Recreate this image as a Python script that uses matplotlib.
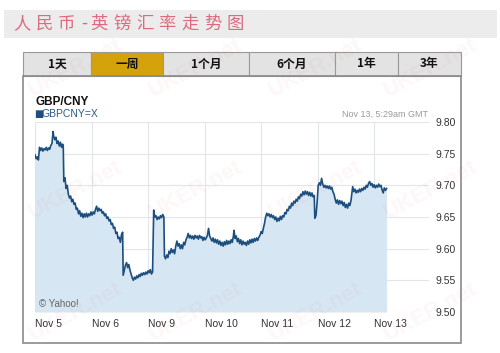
import matplotlib
matplotlib.use("Agg")
import matplotlib.pyplot as plt
from matplotlib.patches import Rectangle

plt.rcParams['font.family'] = ['Liberation Sans', 'Noto Sans CJK SC', 'DejaVu Sans']

title = "人民币-英镑汇率走势图"
tabs = ["1天", "一周", "1个月", "6个月", "1年", "3年"]
tab_edges = [23, 91, 163, 249, 335, 398, 461]
selected_tab = 1

day_labels = ["Nov 5", "Nov 6", "Nov 9", "Nov 10", "Nov 11", "Nov 12", "Nov 13"]
rate_ticks = [9.50, 9.55, 9.60, 9.65, 9.70, 9.75, 9.80]

# time in trading-day slots (0 = Nov 5 00:00), GBP/CNY rate
times = [
    0.00, 0.02, 0.04, 0.06, 0.08, 0.10, 0.12, 0.14, 0.16, 0.18, 0.20, 0.22, 0.24, 0.26, 0.28,
    0.30, 0.32, 0.33, 0.35, 0.37, 0.39, 0.41, 0.43, 0.45, 0.47, 0.49, 0.50,
    0.51, 0.53, 0.55, 0.57, 0.59, 0.61, 0.63, 0.65, 0.67, 0.69, 0.71, 0.73, 0.75, 0.77, 0.79,
    0.81, 0.83, 0.85, 0.87, 0.89, 0.91, 0.93, 0.95, 0.97, 0.99, 1.01, 1.03, 1.05, 1.07, 1.09,
    1.11, 1.13, 1.15, 1.17, 1.19, 1.21, 1.23, 1.25, 1.27, 1.29, 1.31, 1.33, 1.35, 1.37, 1.39,
    1.41, 1.43, 1.45, 1.47, 1.49, 1.51, 1.53, 1.55,
    1.56, 1.58, 1.60, 1.62, 1.64, 1.66, 1.68, 1.70, 1.72, 1.74, 1.76, 1.78, 1.80, 1.82, 1.84,
    1.86, 1.88, 1.90, 1.92, 1.94, 1.96, 1.98, 2.00, 2.02, 2.04, 2.06, 2.08,
    2.10, 2.12, 2.14, 2.16, 2.18, 2.20, 2.22, 2.24, 2.26, 2.28,
    2.29, 2.31, 2.33, 2.35, 2.37, 2.39, 2.41, 2.43, 2.45, 2.47, 2.49, 2.51, 2.53, 2.55, 2.57,
    2.59, 2.61, 2.63, 2.65, 2.67, 2.69, 2.71, 2.73, 2.75, 2.77, 2.79, 2.81, 2.83, 2.85, 2.87,
    2.89, 2.91, 2.93, 2.95, 2.97, 2.99, 3.01, 3.03, 3.05, 3.07, 3.09, 3.11, 3.13, 3.15, 3.17,
    3.19, 3.21, 3.23, 3.25, 3.27, 3.29, 3.31, 3.33, 3.35, 3.37, 3.39, 3.41, 3.43, 3.45, 3.47,
    3.49, 3.51, 3.52, 3.54, 3.56, 3.58, 3.60, 3.62, 3.64, 3.66, 3.68, 3.70, 3.72, 3.74, 3.76,
    3.78, 3.80, 3.82, 3.84, 3.86, 3.88, 3.90, 3.92, 3.94, 3.96, 3.98, 4.00, 4.02, 4.04, 4.06,
    4.08, 4.10, 4.12, 4.14, 4.16, 4.18, 4.20, 4.22, 4.24, 4.26, 4.28, 4.30, 4.32, 4.34, 4.36,
    4.38, 4.40, 4.42, 4.44, 4.46, 4.48, 4.50, 4.52, 4.54, 4.56, 4.58, 4.60, 4.62, 4.64, 4.66,
    4.68, 4.70, 4.72, 4.74, 4.76, 4.78, 4.80, 4.82, 4.84, 4.86, 4.88, 4.90, 4.92, 4.94,
    4.95, 4.97, 4.99, 5.01, 5.03, 5.05, 5.07, 5.09, 5.11, 5.13, 5.15, 5.17, 5.19, 5.21, 5.23,
    5.25, 5.27, 5.29, 5.31, 5.33, 5.35, 5.37, 5.39, 5.41, 5.43, 5.45, 5.47, 5.49, 5.51, 5.53,
    5.55, 5.57, 5.59, 5.61, 5.62, 5.64, 5.66, 5.68, 5.70, 5.72, 5.74, 5.76, 5.78, 5.80, 5.82,
    5.84, 5.86, 5.88, 5.90, 5.92, 5.94, 5.96, 5.98, 6.00, 6.02, 6.04, 6.06, 6.08, 6.10, 6.12,
    6.14, 6.16, 6.18, 6.20, 6.22,
]
rates = [
    9.748, 9.742, 9.745, 9.740, 9.760, 9.755, 9.759, 9.754, 9.758, 9.756, 9.760, 9.755, 9.759, 9.757, 9.763,
    9.766, 9.785, 9.778, 9.772, 9.776, 9.766, 9.770, 9.762, 9.768, 9.760, 9.765, 9.761,
    9.706, 9.712, 9.695, 9.700, 9.686, 9.680, 9.683, 9.674, 9.678, 9.670, 9.672, 9.662, 9.664, 9.655, 9.660,
    9.651, 9.656, 9.649, 9.655, 9.650, 9.656, 9.650, 9.655, 9.652, 9.658, 9.653, 9.658, 9.655, 9.662, 9.667,
    9.659, 9.664, 9.660, 9.662, 9.656, 9.658, 9.652, 9.655, 9.648, 9.650, 9.644, 9.646, 9.638, 9.640, 9.632,
    9.634, 9.624, 9.626, 9.616, 9.618, 9.610, 9.622, 9.626,
    9.558, 9.566, 9.574, 9.578, 9.570, 9.575, 9.566, 9.560, 9.554, 9.550, 9.555, 9.552, 9.557, 9.554, 9.559,
    9.556, 9.561, 9.558, 9.562, 9.559, 9.563, 9.560, 9.565, 9.562, 9.567, 9.560, 9.563,
    9.661, 9.650, 9.652, 9.646, 9.650, 9.647, 9.652, 9.649, 9.654, 9.650,
    9.588, 9.584, 9.590, 9.586, 9.596, 9.592, 9.600, 9.594, 9.598, 9.592, 9.604, 9.612, 9.604, 9.608, 9.600,
    9.606, 9.600, 9.610, 9.606, 9.614, 9.618, 9.624, 9.617, 9.621, 9.616, 9.620, 9.615, 9.621, 9.617, 9.620,
    9.615, 9.621, 9.617, 9.619, 9.613, 9.618, 9.614, 9.617, 9.621, 9.632, 9.620, 9.616, 9.612, 9.617, 9.610,
    9.615, 9.609, 9.614, 9.607, 9.612, 9.605, 9.610, 9.604, 9.611, 9.606, 9.613, 9.607, 9.612, 9.608, 9.614,
    9.610, 9.620, 9.629, 9.616, 9.620, 9.611, 9.616, 9.608, 9.614, 9.606, 9.612, 9.607, 9.610, 9.605, 9.612,
    9.607, 9.614, 9.609, 9.615, 9.610, 9.616, 9.612, 9.617, 9.613, 9.618, 9.621, 9.627, 9.624, 9.632, 9.640,
    9.650, 9.656, 9.652, 9.655, 9.650, 9.654, 9.649, 9.652, 9.646, 9.650, 9.643, 9.648, 9.644, 9.651, 9.646,
    9.652, 9.650, 9.657, 9.655, 9.662, 9.660, 9.667, 9.664, 9.672, 9.668, 9.675, 9.672, 9.678, 9.675, 9.682,
    9.679, 9.686, 9.683, 9.690, 9.685, 9.691, 9.686, 9.690, 9.684, 9.689, 9.683, 9.688, 9.682, 9.684,
    9.648, 9.652, 9.672, 9.700, 9.704, 9.700, 9.711, 9.702, 9.697, 9.700, 9.696, 9.699, 9.695, 9.699, 9.694,
    9.697, 9.690, 9.686, 9.678, 9.672, 9.677, 9.670, 9.676, 9.671, 9.675, 9.668, 9.673, 9.665, 9.670, 9.664,
    9.672, 9.668, 9.676, 9.690, 9.698, 9.690, 9.694, 9.688, 9.692, 9.689, 9.694, 9.690, 9.695, 9.692, 9.697,
    9.694, 9.700, 9.697, 9.703, 9.706, 9.700, 9.703, 9.697, 9.701, 9.696, 9.700, 9.697, 9.702, 9.698, 9.700,
    9.693, 9.688, 9.696, 9.692, 9.695,
]

W, H = 500, 353


def fx(x):
    return x / W


def fy(y):
    return 1 - y / H


fig = plt.figure(figsize=(W / 100, H / 100), dpi=100)
fig.patch.set_facecolor('white')

# title band
fig.patches.append(Rectangle((fx(4), fy(38)), fx(493), 28 / H, transform=fig.transFigure,
                             facecolor='#ececec', edgecolor='none'))
char_x = 13
for ch in title:
    fig.text(fx(char_x), fy(24), ch, fontsize=12.5, color='#dc6b80', va='center', ha='left',
             family=['Noto Sans CJK SC', 'DejaVu Sans'])
    char_x += 10 if ch == '-' else 22.6

# tabs
for i, label in enumerate(tabs):
    x0, x1 = tab_edges[i], tab_edges[i + 1]
    face = '#d4a20b' if i == selected_tab else '#e3e3e3'
    fig.patches.append(Rectangle((fx(x0), fy(76)), (x1 - x0) / W, 24 / H, transform=fig.transFigure,
                                 facecolor=face, edgecolor='#9a9a9a', linewidth=0.8))
    fig.text(fx((x0 + x1) / 2), fy(64), label, fontsize=8.5, fontweight='bold', color='#111111',
             ha='center', va='center', family=['Noto Sans CJK SC', 'DejaVu Sans'])

# chart frame
fig.patches.append(Rectangle((fx(23), fy(343)), 438 / W, 267 / H, transform=fig.transFigure,
                             facecolor='none', edgecolor='#8a8a8a', linewidth=1.2))

ax = fig.add_axes([fx(35), fy(312), 394 / W, 190 / H])
ax.fill_between(times, rates, 9.50, color='#d6e6f2', linewidth=0)
ax.plot(times, rates, color='#1c4f7e', linewidth=1.2)
ax.set_xlim(0, 6.97)
ax.set_ylim(9.50, 9.80)
ax.set_xticks(range(len(day_labels)))
ax.set_xticklabels(day_labels, ha='left')
ax.set_yticks(rate_ticks)
ax.set_yticklabels([f"{v:.2f}" for v in rate_ticks])
ax.yaxis.tick_right()
ax.tick_params(axis='both', length=0, labelsize=7.5, colors='#333333')
ax.tick_params(axis='x', pad=5)
ax.tick_params(axis='y', pad=5)
ax.grid(True, color='#e2e5e9', linewidth=0.8)
ax.set_axisbelow(True)
for s in ax.spines.values():
    s.set_visible(False)

fig.text(fx(35), fy(102), "GBP/CNY", fontsize=8.5, fontweight='bold', color='#111111', va='center')
fig.text(fx(34), fy(114), "■", fontsize=7, color='#1c4f7e', va='center',
         family=['DejaVu Sans'])
fig.text(fx(42), fy(114), "GBPCNY=X", fontsize=7.5, color='#2b5b8c', va='center')
fig.text(fx(428), fy(114), "Nov 13, 5:29am GMT", fontsize=6.5, color='#9a9a9a', va='center', ha='right')
ax.text(0.01, 0.015, "© Yahoo!", transform=ax.transAxes, fontsize=7, color='#666666', va='bottom')

# faint watermarks
for row_y in [68, 190, 312]:
    for col_x in [75, 195, 315, 430]:
        fig.text(fx(col_x), fy(row_y), "UKER.net", fontsize=16, fontweight='bold', color='#e07070',
                 alpha=0.06, rotation=28, ha='center', va='center', zorder=10)

fig.savefig('out.png', dpi=100)
